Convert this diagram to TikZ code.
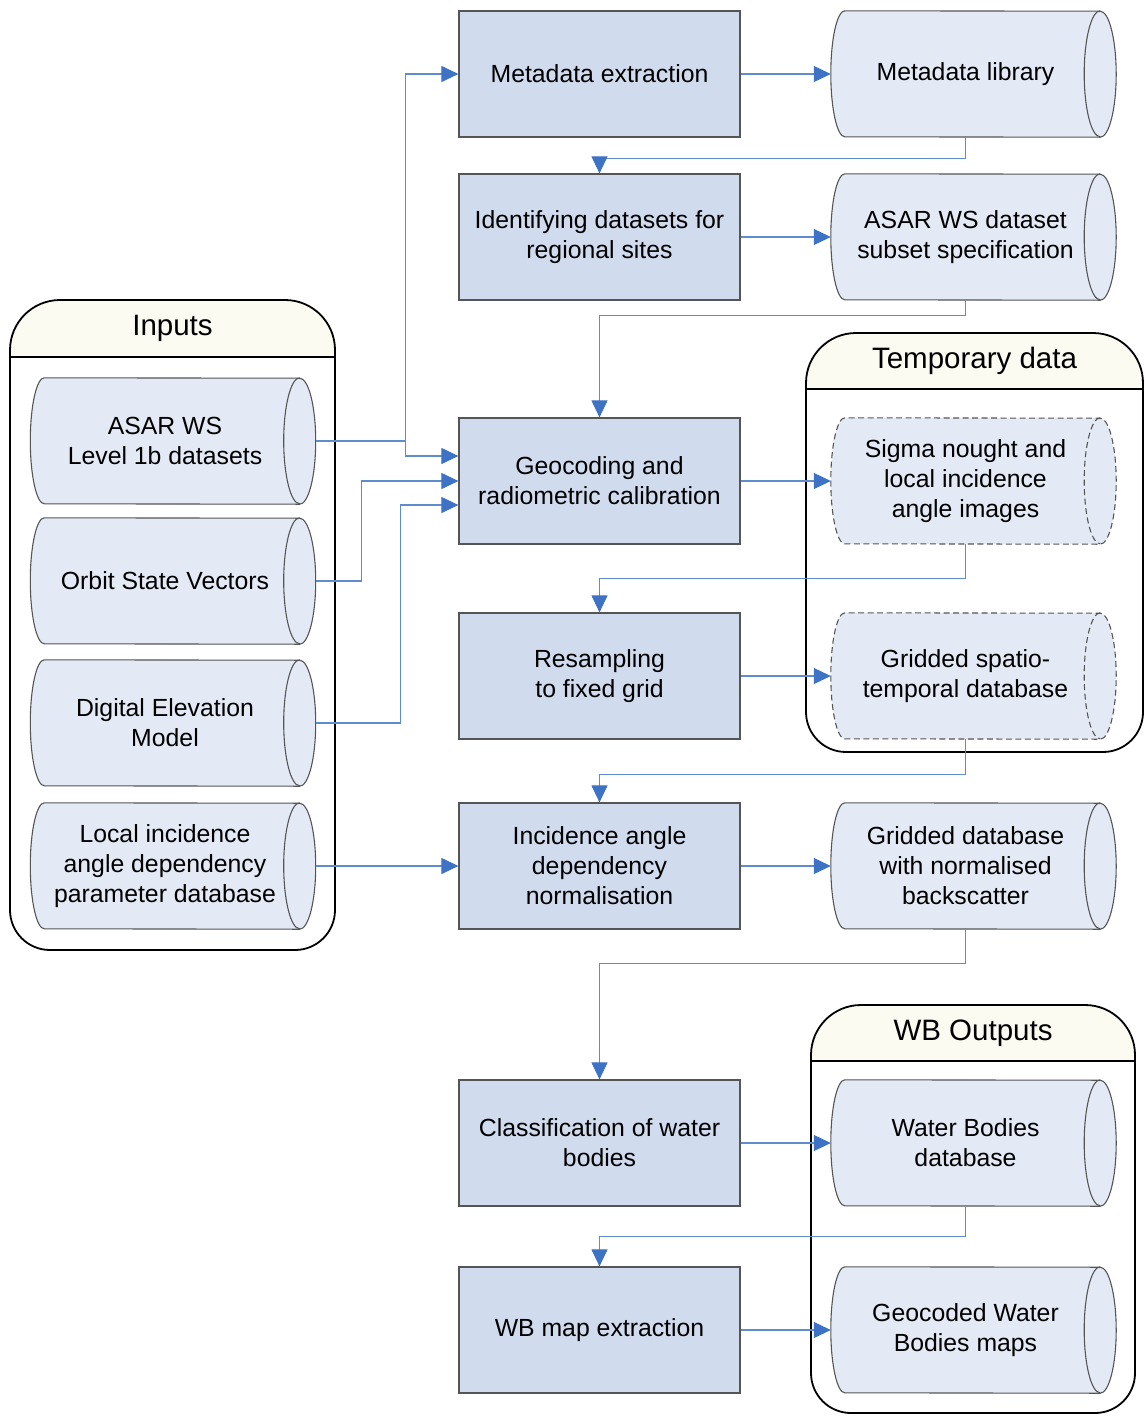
\documentclass[tikz,border=0pt]{standalone}
\usepackage{fontspec}
\setmainfont{Liberation Sans}
\usetikzlibrary{arrows.meta}
\usetikzlibrary{math}
\definecolor{procblue}{RGB}{208,219,238}
\definecolor{storeblue}{RGB}{228,234,245}
\definecolor{linkblue}{RGB}{95,140,205}
\definecolor{tipblue}{RGB}{62,114,196}
\definecolor{headfill}{RGB}{251,251,242}
\definecolor{edgegray}{RGB}{85,85,85}

\pgfdeclarelayer{pool}
\pgfdeclarelayer{shade}
\pgfsetlayers{pool,shade,main}

\tikzset{
  txt/.style={font=\fontsize{24.8}{30}\selectfont, align=center},
  proc/.style={txt, draw=edgegray, line width=1.2pt, fill=procblue,
    minimum width=281pt, minimum height=126pt},
  store/.style={txt, minimum width=269pt, minimum height=126pt},
  storeline/.style={draw=edgegray, line width=1.1pt, fill=storeblue},
  templine/.style={dash pattern=on 6pt off 3.5pt},
  link/.style={draw=linkblue, line width=1.1pt,
    -{Triangle[length=17pt,width=16pt,color=tipblue]}},
  frame/.style={draw=black, line width=1.8pt},
  title/.style={font=\fontsize{29.5}{34}\selectfont}
}

% container with a rounded title bar
\newcommand{\poolframe}[7]{%
  \begin{pgfonlayer}{pool}
  \path[fill=white] (#1,#6) [rounded corners=50pt] -- (#1,#2) -- (#4,#2) -- (#4,#6)
    [rounded corners=40pt] -- (#4,#5) -- (#1,#5) -- cycle;
  \begin{scope}
    \clip (#1,#6) [rounded corners=50pt] -- (#1,#2) -- (#4,#2) -- (#4,#6) -- cycle;
    \fill[headfill] (#1,#2) rectangle (#4,#3);
  \end{scope}
  \draw[frame] (#1,#6) [rounded corners=50pt] -- (#1,#2) -- (#4,#2) -- (#4,#6)
    [rounded corners=40pt] -- (#4,#5) -- (#1,#5) -- cycle;
  \draw[frame, line width=1.4pt] (#1,#3) -- (#4,#3);
  \node[title] at ({(#1+#4)/2},{(#2+#3)/2}) {#7};
  \end{pgfonlayer}
}

% stored data outline round a named node
\newcommand{\storeshape}[2][]{%
  \begin{pgfonlayer}{shade}
  \filldraw[storeline,#1] ([xshift=14pt]#2.north west)
    arc[start angle=90, end angle=270, x radius=14pt, y radius=63pt]
    -- (#2.south east)
    arc[start angle=-90, end angle=90, x radius=16pt, y radius=63pt]
    -- cycle;
  \draw[storeline,fill=none,#1] (#2.north east)
    arc[start angle=90, end angle=270, x radius=16pt, y radius=63pt];
  \end{pgfonlayer}
}

\begin{document}
\begin{tikzpicture}[x=1pt,y=-1pt]
\tikzmath{
\px=599.5;
\sx=965.5;
\ix=165;
}
\useasboundingbox (0,0) rectangle (1147,1416);

% containers
\poolframe{10}{300}{357}{335}{950}{620}{Inputs}
\poolframe{806}{333}{389}{1143}{752}{560}{Temporary data}
\poolframe{811}{1005}{1061}{1135}{1413}{1200}{WB Outputs}

% processing steps
\node[proc] (meta) at (\px,74) {Metadata extraction};
\node[proc] (ident) at (\px,237) {Identifying datasets for\\regional sites};
\node[proc] (geo) at (\px,481) {Geocoding and\\radiometric calibration};
\node[proc] (resamp) at (\px,676) {Resampling\\to fixed grid};
\node[proc] (incid) at (\px,866) {Incidence angle\\dependency\\normalisation};
\node[proc] (classif) at (\px,1143) {Classification of water\\bodies};
\node[proc] (wbmap) at (\px,1330) {WB map extraction};

% data stores
\node[store] (mlib) at (\sx,74) {Metadata library};
\node[store] (subset) at (\sx,237) {ASAR WS dataset\\subset specification};
\node[store] (sigma) at (\sx,481) {Sigma nought and\\local incidence\\angle images};
\node[store] (grid) at (\sx,676) {Gridded spatio-\\temporal database};
\node[store] (normdb) at (\sx,866) {Gridded database\\with normalised\\backscatter};
\node[store] (wbdb) at (\sx,1143) {Water Bodies\\database};
\node[store] (wbmaps) at (\sx,1330) {Geocoded Water\\Bodies maps};

% inputs
\node[store] (l1b) at (\ix,441) {ASAR WS\\Level 1b datasets};
\node[store] (orbit) at (\ix,581) {Orbit State Vectors};
\node[store] (dem) at (\ix,723) {Digital Elevation\\Model};
\node[store] (lidp) at (\ix,866) {Local incidence\\angle dependency\\parameter database};

\storeshape{mlib}
\storeshape{subset}
\storeshape[templine]{sigma}
\storeshape[templine]{grid}
\storeshape{normdb}
\storeshape{wbdb}
\storeshape{wbmaps}
\storeshape{l1b}
\storeshape{orbit}
\storeshape{dem}
\storeshape{lidp}

% links
\draw[link] ([xshift=16pt]l1b.east) -- ++(90,0) |- (meta.west);
\draw[link] ([xshift=16pt]l1b.east) -- ++(90,0) |- ([yshift=25pt]geo.west);
\draw[link] ([xshift=16pt]orbit.east) -- ++(46,0) |- (geo.west);
\draw[link] ([xshift=16pt]dem.east) -- ++(85,0) |- ([yshift=-24pt]geo.west);
\draw[link] ([xshift=16pt]lidp.east) -- (incid.west);

\draw[link] (meta.east) -- (mlib.west);
\draw[link] (mlib.south) -- ++(0,21) -| (ident.north);
\draw[link] (ident.east) -- (subset.west);
\draw[link] (subset.south) -- ++(0,15) -| (geo.north);
\draw[link] (geo.east) -- (sigma.west);
\draw[link] (sigma.south) -- ++(0,34) -| (resamp.north);
\draw[link] (resamp.east) -- (grid.west);
\draw[link] (grid.south) -- ++(0,35) -| (incid.north);
\draw[link] (incid.east) -- (normdb.west);
\draw[link] (normdb.south) -- ++(0,34) -| (classif.north);
\draw[link] (classif.east) -- (wbdb.west);
\draw[link] (wbdb.south) -- ++(0,30) -| (wbmap.north);
\draw[link] (wbmap.east) -- (wbmaps.west);
\end{tikzpicture}
\end{document}
